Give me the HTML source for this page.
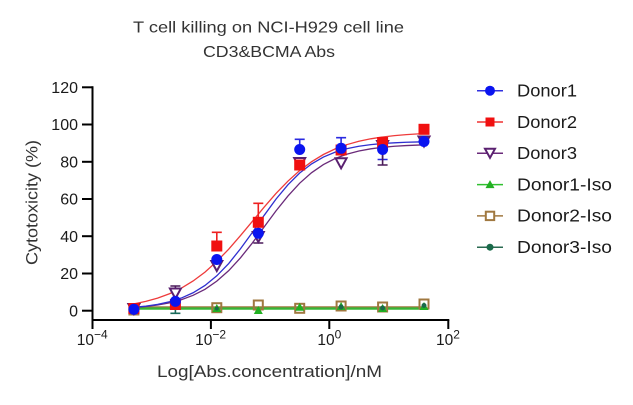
<!DOCTYPE html>
<html><head><meta charset="utf-8"><style>
html,body{margin:0;padding:0;background:#fff;}
svg{display:block;font-family:"Liberation Sans",Arial,sans-serif;}
</style></head><body>
<svg width="633" height="405" viewBox="0 0 633 405" xmlns="http://www.w3.org/2000/svg">
<rect width="633" height="405" fill="#fff"/>
<!-- Title -->
<text x="268.5" y="32.5" font-size="16" fill="#333" text-anchor="middle" textLength="271" lengthAdjust="spacingAndGlyphs">T cell killing on NCI-H929 cell line</text>
<text x="269" y="57" font-size="16" fill="#333" text-anchor="middle" textLength="132" lengthAdjust="spacingAndGlyphs">CD3&amp;BCMA Abs</text>

<!-- Axes -->
<g stroke="#000" stroke-width="2" fill="none">
<line x1="92.5" y1="86.3" x2="92.5" y2="321"/>
<line x1="91.5" y1="320" x2="449.3" y2="320"/>
<line x1="82" y1="87.3" x2="92.5" y2="87.3"/>
<line x1="82" y1="124.5" x2="92.5" y2="124.5"/>
<line x1="82" y1="161.8" x2="92.5" y2="161.8"/>
<line x1="82" y1="199" x2="92.5" y2="199"/>
<line x1="82" y1="236.2" x2="92.5" y2="236.2"/>
<line x1="82" y1="273.5" x2="92.5" y2="273.5"/>
<line x1="82" y1="310.7" x2="92.5" y2="310.7"/>
<line x1="92.5" y1="320" x2="92.5" y2="329"/>
<line x1="210.9" y1="320" x2="210.9" y2="329"/>
<line x1="329.3" y1="320" x2="329.3" y2="329"/>
<line x1="448.3" y1="320" x2="448.3" y2="329"/>
</g>
<g font-size="16" fill="#1a1a1a" text-anchor="end">
<text x="78" y="93">120</text>
<text x="78" y="130.2">100</text>
<text x="78" y="167.5">80</text>
<text x="78" y="204.7">60</text>
<text x="78" y="241.9">40</text>
<text x="78" y="279.2">20</text>
<text x="78" y="316.4">0</text>
</g>
<g font-size="15.5" fill="#1a1a1a" text-anchor="middle">
<text x="92.2" y="345">10<tspan font-size="12" dy="-6.5">−4</tspan></text>
<text x="210.6" y="345">10<tspan font-size="12" dy="-6.5">−2</tspan></text>
<text x="329.3" y="345">10<tspan font-size="12" dy="-6.5">0</tspan></text>
<text x="448" y="345">10<tspan font-size="12" dy="-6.5">2</tspan></text>
</g>
<text x="269.5" y="377" font-size="17" fill="#333" text-anchor="middle" textLength="225" lengthAdjust="spacingAndGlyphs">Log[Abs.concentration]/nM</text>
<text transform="translate(37.5,202.5) rotate(-90)" x="0" y="0" font-size="17" fill="#333" text-anchor="middle" textLength="125" lengthAdjust="spacingAndGlyphs">Cytotoxicity (%)</text>

<!-- Iso lines -->
<line x1="133.9" y1="307" x2="424" y2="307" stroke="#a07840" stroke-width="1.6"/>
<line x1="133.9" y1="308.3" x2="424" y2="308.3" stroke="#2a6a50" stroke-width="1.2"/>
<line x1="133.9" y1="308.6" x2="424" y2="308.6" stroke="#36b636" stroke-width="2.4"/>

<!-- Curves -->
<polyline fill="none" stroke="#ee3b3b" stroke-width="1.3" points="133.9,303.85 145.8,301.39 157.6,298.09 169.5,293.76 181.3,288.13 193.1,280.96 205.0,272.10 216.8,261.45 228.7,249.16 240.5,235.59 252.4,221.32 264.2,207.04 276.0,193.47 287.9,181.18 299.7,170.55 311.6,161.68 323.4,154.51 335.2,148.89 347.1,144.56 358.9,141.26 370.8,138.80 382.6,136.96 394.5,135.62 406.3,134.61 418.2,133.88 424.1,133.60"/>
<polyline fill="none" stroke="#6a2a7a" stroke-width="1.3" points="133.9,307.57 145.8,306.53 157.6,305.02 169.5,302.84 181.3,299.71 193.1,295.32 205.0,289.27 216.8,281.13 228.7,270.65 240.5,257.78 252.4,242.92 264.2,226.91 276.0,210.90 287.9,196.04 299.7,183.17 311.6,172.69 323.4,164.57 335.2,158.50 347.1,154.10 358.9,151.00 370.8,148.80 382.6,147.29 394.5,146.26 406.3,145.54 418.2,145.07 424.1,144.89"/>
<polyline fill="none" stroke="#2f2fd0" stroke-width="1.3" points="133.9,307.31 145.8,306.12 157.6,304.35 169.5,301.76 181.3,298.04 193.1,292.77 205.0,285.49 216.8,275.81 228.7,263.52 240.5,248.75 252.4,232.33 264.2,215.31 276.0,199.11 287.9,184.81 299.7,173.04 311.6,163.88 323.4,157.05 335.2,152.11 347.1,148.67 358.9,146.27 370.8,144.63 382.6,143.51 394.5,142.79 406.3,142.28 418.2,141.93 424.1,141.81"/>

<!-- Error bars -->
<g fill="none" stroke-width="1.6">
<g stroke="#ee2020">
<path d="M216.8,246 V232.3 M211.8,232.3 H221.8"/>
<path d="M258.3,222.3 V203.3 M253.3,203.3 H263.3"/>
<path d="M258.3,222.3 V241.5"/>
</g>
<g stroke="#7a1a3a"><path d="M299.7,165 V158.3 M294.7,158.3 H304.7"/></g>
<g stroke="#2a2ae0">
<path d="M299.7,149.5 V139.3 M294.7,139.3 H304.7"/>
<path d="M341.1,148.3 V137.7 M336.1,137.7 H346.1"/>
<path d="M382.6,149.5 V159.5 M377.6,159.5 H387.6"/>
<path d="M382.6,149.5 V141 M377.6,141 H387.6"/>
</g>
<g stroke="#4a1a5a">
<path d="M175.4,293.5 V286 M170.4,286 H180.4"/>
<path d="M258.3,237 V243 M253.3,243 H263.3"/>
<path d="M382.6,150 V165 M377.6,165 H387.6"/>
</g>
<g stroke="#1a6a5a"><path d="M175.4,301 V313.3 M170.4,313.3 H180.4"/></g>
</g>

<!-- Iso markers -->
<g fill="none" stroke="#a07840" stroke-width="2">
<rect x="129.4" y="305.5" width="9" height="9"/>
<rect x="212.3" y="303.2" width="9" height="9"/>
<rect x="253.8" y="300.5" width="9" height="9"/>
<rect x="295.2" y="303.8" width="9" height="9"/>
<rect x="336.6" y="301.5" width="9" height="9"/>
<rect x="378.1" y="302.5" width="9" height="9"/>
<rect x="419.5" y="299.5" width="9" height="9"/>
</g>
<g fill="#22b022">
<polygon points="216.8,304 221.3,312 212.3,312"/>
<polygon points="258.3,306 262.8,314 253.8,314"/>
<polygon points="299.7,302.7 304.2,310.7 295.2,310.7"/>
<polygon points="341.1,302 345.6,310 336.6,310"/>
<polygon points="382.6,304 387.1,312 378.1,312"/>
<polygon points="424,302 428.5,310 419.5,310"/>
</g>
<g fill="#1a6a4a">
<circle cx="341.1" cy="307" r="2.5"/>
<circle cx="382.6" cy="308" r="2.5"/>
<circle cx="424" cy="305.5" r="2.5"/>
<circle cx="216.8" cy="308.5" r="2"/>
</g>

<!-- Donor3 open inverted triangles -->
<g fill="#fff" stroke="#5a2070" stroke-width="2">
<polygon points="128.4,304 139.4,304 133.9,314"/>
<polygon points="169.9,288.5 180.9,288.5 175.4,298.5"/>
<polygon points="211.3,261 222.3,261 216.8,271"/>
<polygon points="252.8,232 263.8,232 258.3,242"/>
<polygon points="294.2,158 305.2,158 299.7,168"/>
<polygon points="335.6,158.3 346.6,158.3 341.1,168.3"/>
<polygon points="377.1,141 388.1,141 382.6,151"/>
<polygon points="418.5,136.5 429.5,136.5 424,146.5"/>
</g>
<!-- Donor2 red squares -->
<g fill="#f01010">
<rect x="128.4" y="303" width="11" height="11"/>
<rect x="169.9" y="299" width="11" height="11"/>
<rect x="211.3" y="240.5" width="11" height="11"/>
<rect x="252.8" y="216.8" width="11" height="11"/>
<rect x="294.2" y="159.5" width="11" height="11"/>
<rect x="335.6" y="144.5" width="11" height="11"/>
<rect x="377.1" y="137" width="11" height="11"/>
<rect x="418.5" y="123.8" width="11" height="11"/>
</g>
<!-- Donor1 blue circles -->
<g fill="#0a14f0">
<circle cx="133.9" cy="309.3" r="5.5"/>
<circle cx="175.4" cy="301.4" r="5.5"/>
<circle cx="216.8" cy="259.5" r="5.5"/>
<circle cx="258.3" cy="233.3" r="5.5"/>
<circle cx="299.7" cy="149.5" r="5.5"/>
<circle cx="341.1" cy="148.3" r="5.5"/>
<circle cx="382.6" cy="149.5" r="5.5"/>
<circle cx="424" cy="141.5" r="5.5"/>
</g>

<!-- Legend -->
<g stroke-width="1.5">
<line x1="477" y1="90.7" x2="503" y2="90.7" stroke="#3030e0"/>
<line x1="477" y1="122" x2="503" y2="122" stroke="#f03030"/>
<line x1="477" y1="153.3" x2="503" y2="153.3" stroke="#6a2a7a"/>
<line x1="477" y1="184.6" x2="503" y2="184.6" stroke="#30c030"/>
<line x1="477" y1="215.9" x2="503" y2="215.9" stroke="#a07840"/>
<line x1="477" y1="247.2" x2="503" y2="247.2" stroke="#2a6a50"/>
</g>
<circle cx="490" cy="90.7" r="5" fill="#0a14f0"/>
<rect x="485.5" y="117.5" width="9" height="9" fill="#f01010"/>
<polygon points="485,148.8 495,148.8 490,157.8" fill="#fff" stroke="#5a2070" stroke-width="2"/>
<polygon points="490,180.1 494.5,188.1 485.5,188.1" fill="#22b022"/>
<rect x="485.8" y="211.7" width="8.4" height="8.4" fill="#fff" stroke="#a07840" stroke-width="2"/>
<circle cx="490" cy="247.2" r="3.5" fill="#1a6a4a"/>
<g font-size="17.5" fill="#1a1a1a">
<text x="517" y="96.5" textLength="60" lengthAdjust="spacingAndGlyphs">Donor1</text>
<text x="517" y="127.8" textLength="60" lengthAdjust="spacingAndGlyphs">Donor2</text>
<text x="517" y="159.1" textLength="60" lengthAdjust="spacingAndGlyphs">Donor3</text>
<text x="517" y="190.4" textLength="95" lengthAdjust="spacingAndGlyphs">Donor1-Iso</text>
<text x="517" y="221.7" textLength="95" lengthAdjust="spacingAndGlyphs">Donor2-Iso</text>
<text x="517" y="253" textLength="95" lengthAdjust="spacingAndGlyphs">Donor3-Iso</text>
</g>
</svg>
</body></html>
